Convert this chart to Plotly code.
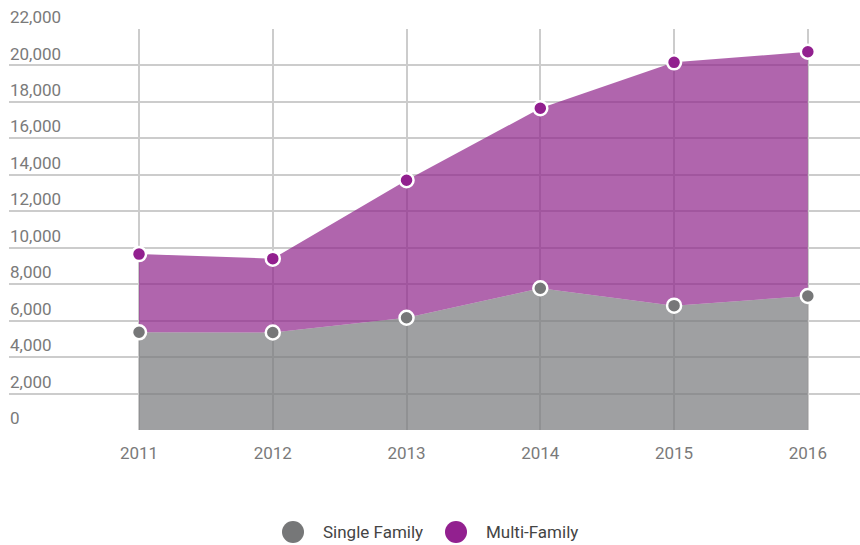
import plotly.graph_objects as go

years = [2011, 2012, 2013, 2014, 2015, 2016]
single_family = [5360, 5350, 6160, 7775, 6820, 7350]
multi_family = [4290, 4050, 7540, 9875, 13350, 13400]
y_ticks = list(range(0, 22001, 2000))
series_names = ["Single Family", "Multi-Family"]
marker_colors = ["#767778", "#92208f"]
fill_colors = ["rgba(118,119,122,0.7)", "rgba(142,35,138,0.7)"]

W, H = 860, 545
ML, MR, MT, MB = 9, 0, 29, 115
PW, PH = W - ML - MR, H - MT - MB


def px_to_paper(px, py):
    return (px - ML) / PW, (H - MB - py) / PH


fig = go.Figure()
for name, vals, mc, fc in zip(series_names, [single_family, multi_family], marker_colors, fill_colors):
    fig.add_trace(go.Scatter(
        x=years, y=vals, name=name, stackgroup="one",
        mode="lines+markers", line=dict(width=0, color=fc), fillcolor=fc,
        marker=dict(size=14, color=mc, line=dict(color="white", width=2.5)),
        showlegend=False,
    ))

# custom legend (circles + labels)
shapes = []
annotations = []
legend_items = [(293, 321), (456, 484)]
for (cx, tx), name, mc in zip(legend_items, series_names, marker_colors):
    x0, y0 = px_to_paper(cx - 11, 532 + 11)
    x1, y1 = px_to_paper(cx + 11, 532 - 11)
    shapes.append(dict(type="circle", xref="paper", yref="paper", x0=x0, y0=y0, x1=x1, y1=y1,
                       fillcolor=mc, line=dict(width=0)))
    ax, ay = px_to_paper(tx, 532)
    annotations.append(dict(x=ax, y=ay, xref="paper", yref="paper", text=name, showarrow=False,
                            xanchor="left", yanchor="middle",
                            font=dict(family="Roboto", size=17, color="#444444")))

fig.update_layout(
    width=W, height=H,
    margin=dict(l=ML, r=MR, t=MT, b=MB),
    paper_bgcolor="white", plot_bgcolor="white",
    font=dict(family="Roboto", size=17, color="#7a7a7a"),
    showlegend=False,
    shapes=shapes, annotations=annotations,
    xaxis=dict(range=[2010.028, 2016.39], tickvals=years, ticktext=[str(y) for y in years],
               showgrid=True, gridcolor="#cccccc", gridwidth=1.5, zeroline=False,
               showline=False, ticks="outside", ticklen=8, tickcolor="rgba(0,0,0,0)",
               automargin=False, tickfont=dict(size=17, color="#7a7a7a")),
    yaxis=dict(range=[0, 22000], tickvals=y_ticks, tickformat=",",
               showgrid=True, gridcolor="#cccccc", gridwidth=1.5, zeroline=False,
               ticklabelposition="inside top", ticklabeloverflow="allow",
               ticklabelstandoff=-2,
               automargin=False, tickfont=dict(size=17, color="#7a7a7a")),
)

fig.write_html("out.html", config={"displayModeBar": False},
               post_script="document.body.style.margin='0';document.body.style.overflow='hidden';")
